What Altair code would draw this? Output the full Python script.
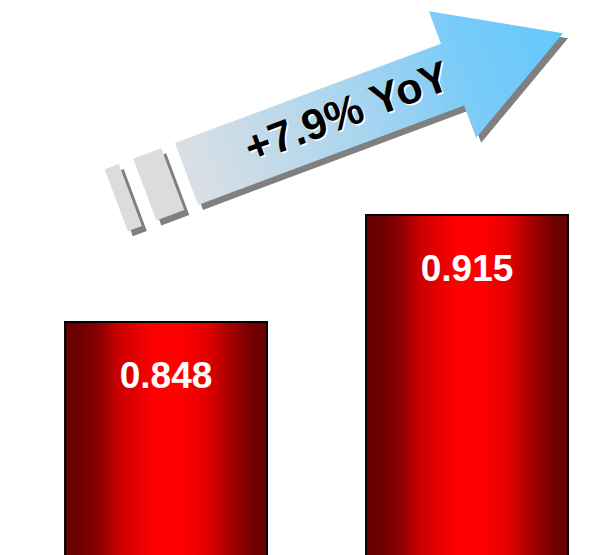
import altair as alt
import pandas as pd

# ---- data ----
categories = ["Previous year", "Current year"]
values = [0.848, 0.915]
labels = ["0.848", "0.915"]
growth_text = ["+7.9% YoY"]

W, H = 604, 555

bars_df = pd.DataFrame({"cat": categories, "value": values, "label": labels})
note_df = pd.DataFrame({"text": growth_text})

# ---- styles ----
bar_gradient = {
    "gradient": "linear", "x1": 0, "x2": 1, "y1": 0, "y2": 0,
    "stops": [
        {"offset": 0.0, "color": "#660000"},
        {"offset": 0.07, "color": "#6c0000"},
        {"offset": 0.17, "color": "#8c0000"},
        {"offset": 0.26, "color": "#c80000"},
        {"offset": 0.45, "color": "#ff0000"},
        {"offset": 0.58, "color": "#ff0000"},
        {"offset": 0.71, "color": "#e00000"},
        {"offset": 0.83, "color": "#a00000"},
        {"offset": 0.93, "color": "#720000"},
        {"offset": 1.0, "color": "#660000"},
    ],
}
arrow_gradient = {
    "gradient": "linear", "x1": 0, "x2": 1, "y1": 0, "y2": 0,
    "stops": [
        {"offset": 0.0, "color": "#dadfe4"},
        {"offset": 0.45, "color": "#a9d5ef"},
        {"offset": 0.75, "color": "#78cbf8"},
        {"offset": 1.0, "color": "#64c8fd"},
    ],
}

# arrow outline (local units, rotated by the mark angle)
arrow_path = "M0,-33 L284,-33 L284,-67.5 L402,0 L284,67.5 L284,33 L0,33 Z"
tail_path = ("M-44.5,-33 L-14.7,-33 L-14.7,33 L-44.5,33 Z "
             "M-75,-33 L-60,-33 L-60,33 L-75,33 Z")
arrow_angle = 339.5
ax, ay = 186.5, 174  # arrow anchor
shadow_dx, shadow_dy = 5, 5

x_enc = alt.X("cat:N", sort=categories, axis=None,
              scale=alt.Scale(paddingInner=0.329, paddingOuter=0.1678, align=0.644))
y_enc = alt.Y("value:Q", axis=None,
              scale=alt.Scale(domain=[0.7021, 1.0496], zero=False, nice=False))

bars = alt.Chart(bars_df).mark_bar(
    clip=True, fill=bar_gradient, stroke="black", strokeWidth=2
).encode(x=x_enc, y=y_enc, y2=alt.datum(0))

bar_labels = alt.Chart(bars_df).mark_text(
    dy=55, baseline="middle", align="center", font="Liberation Sans",
    fontSize=37, fontWeight="bold", color="white"
).encode(x=x_enc, y=y_enc, text="label:N")


def shape_layer(path, fill, dx=0, dy=0):
    return alt.Chart(note_df).mark_point(
        shape=path, size=4, angle=arrow_angle, filled=True, fill=fill,
        strokeWidth=0, opacity=1
    ).encode(x=alt.value(ax + dx), y=alt.value(ay + dy))


arrow_shadow = shape_layer(arrow_path, "#808080", shadow_dx, shadow_dy)
tail_shadow = shape_layer(tail_path, "#808080", shadow_dx, shadow_dy)
tail = shape_layer(tail_path, "#dcdcdc")
arrow = shape_layer(arrow_path, arrow_gradient)

tx, ty = 347.5, 113.5


def note_layer(color, dx=0, dy=0):
    return alt.Chart(note_df).mark_text(
        angle=arrow_angle, align="center", baseline="middle",
        font="Liberation Sans", fontSize=43, fontWeight="bold", color=color
    ).encode(x=alt.value(tx + dx), y=alt.value(ty + dy), text="text:N")


note_shadow = note_layer("white", 1.5, 1.5)
note = note_layer("black")

chart = alt.layer(
    bars, bar_labels, arrow_shadow, tail_shadow, tail, arrow, note_shadow, note
).properties(
    width=W, height=H, padding=0, autosize=alt.AutoSizeParams(type="none"),
    background="white"
).configure_view(stroke=None)

chart.save("out.html", embed_options={"renderer": "svg", "actions": False})
